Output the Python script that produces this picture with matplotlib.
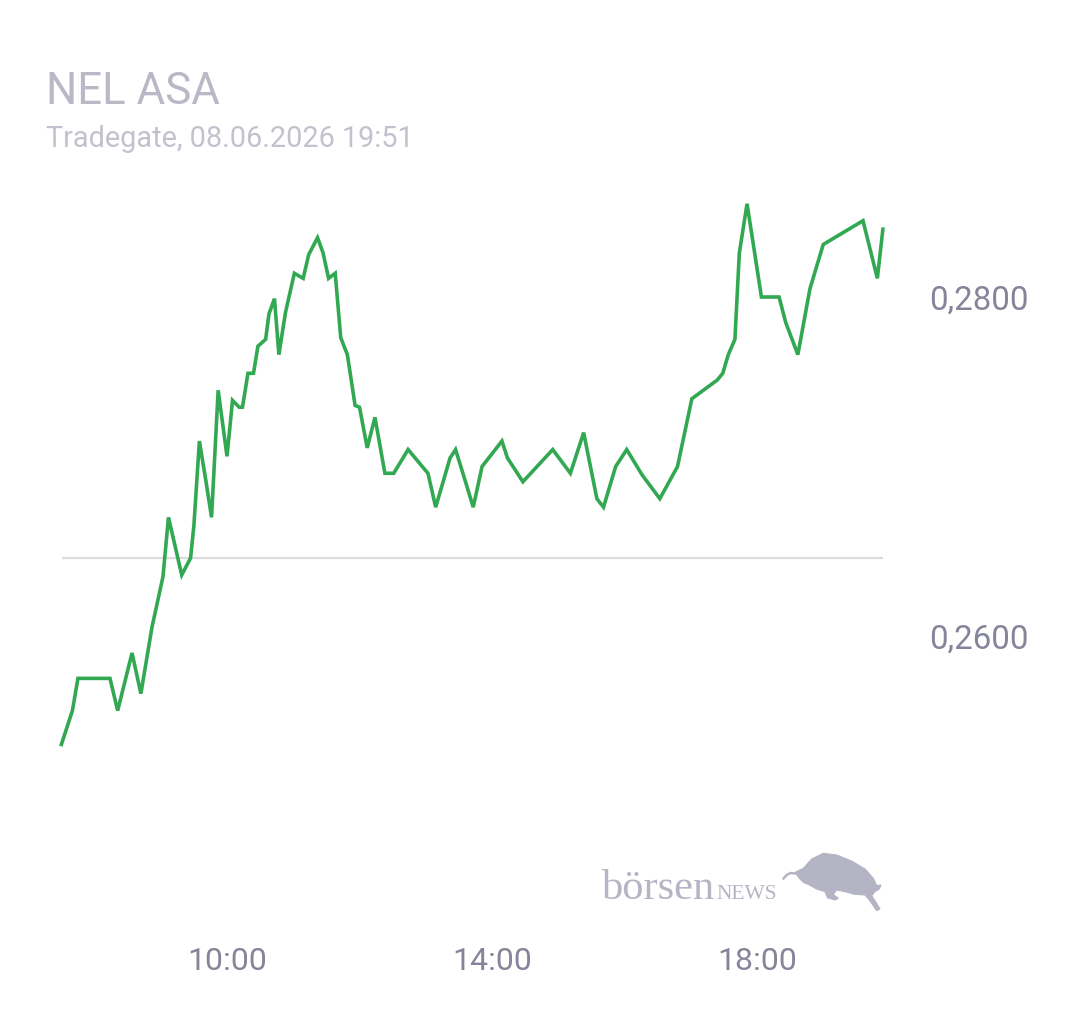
import matplotlib
matplotlib.use("Agg")
import matplotlib.pyplot as plt
from matplotlib.patches import Polygon
from matplotlib.lines import Line2D
import matplotlib.transforms as mtransforms

# ---------------- data ----------------
times = ["07:30", "07:40", "07:45", "08:14", "08:21", "08:34", "08:42", "08:52", "09:02", "09:07",
         "09:19", "09:27", "09:30", "09:35", "09:41", "09:46", "09:52", "10:00", "10:05", "10:11",
         "10:14", "10:19", "10:24", "10:28", "10:35", "10:38", "10:43", "10:47", "10:53", "11:01",
         "11:09", "11:14", "11:22", "11:27", "11:32", "11:38", "11:43", "11:49", "11:56", "12:00",
         "12:07", "12:14", "12:23", "12:31", "12:44", "13:02", "13:09", "13:22", "13:27", "13:36",
         "13:43", "13:51", "14:09", "14:14", "14:28", "14:55", "15:11", "15:23", "15:35", "15:41",
         "15:52", "16:02", "16:16", "16:32", "16:48", "17:01", "17:24", "17:29", "17:34", "17:40",
         "17:44", "17:51", "18:04", "18:20", "18:26", "18:37", "18:48", "19:00", "19:36", "19:49",
         "19:54"]
prices = [0.2536, 0.2556, 0.2575, 0.2575, 0.2556, 0.2590, 0.2566, 0.2605, 0.2635, 0.2670,
          0.2636, 0.2646, 0.2665, 0.2715, 0.2691, 0.2670, 0.2745, 0.2706, 0.2739, 0.2735,
          0.2735, 0.2755, 0.2755, 0.2771, 0.2775, 0.2790, 0.2799, 0.2766, 0.2791, 0.2814,
          0.2811, 0.2825, 0.2835, 0.2826, 0.2811, 0.2814, 0.2776, 0.2766, 0.2736, 0.2735,
          0.2711, 0.2729, 0.2696, 0.2696, 0.2710, 0.2696, 0.2676, 0.2705, 0.2710, 0.2691,
          0.2676, 0.2700, 0.2715, 0.2705, 0.2691, 0.2710, 0.2696, 0.2720, 0.2681, 0.2676,
          0.2700, 0.2710, 0.2695, 0.2681, 0.2700, 0.2740, 0.2751, 0.2755, 0.2766, 0.2775,
          0.2826, 0.2855, 0.2800, 0.2800, 0.2785, 0.2766, 0.2805, 0.2831, 0.2845, 0.2811,
          0.2840]
prev_close = 0.2646
y_ticks = [0.2600, 0.2800]
y_tick_labels = ["0,2600", "0,2800"]
x_ticks = [10, 14, 18]
x_tick_labels = ["10:00", "14:00", "18:00"]
title = "NEL ASA"
subtitle = "Tradegate, 08.06.2026 19:51"

# ---------------- layout ----------------
W, H = 1080, 1013
plt.rcParams["font.family"] = ["Roboto", "DejaVu Sans"]
fig = plt.figure(figsize=(W / 100, H / 100), dpi=100)
fig.patch.set_facecolor("white")

ax_left, ax_right = 62, 883        # pixels
ax_top, ax_bottom = 180, 930       # pixels
ax = fig.add_axes([ax_left / W, 1 - ax_bottom / H, (ax_right - ax_left) / W, (ax_bottom - ax_top) / H])

# y scale: 0.28 at pixel 297, 0.26 at pixel 636
px_per_unit = (636 - 297) / 0.02
ymax = 0.28 + (297 - ax_top) / px_per_unit
ymin = 0.28 - (ax_bottom - 297) / px_per_unit
# x scale: 10:00 at pixel 227, 14:00 at pixel 492
px_per_hour = (492 - 227) / 4
xmin = 10 - (227 - ax_left) / px_per_hour
xmax = 10 + (ax_right - 227) / px_per_hour

hours = [int(t[:2]) + int(t[3:]) / 60 for t in times]

ax.axhline(prev_close, color="#dcdcdf", lw=1.6, zorder=1)
ax.plot(hours, prices, color="#33a852", lw=2.6, solid_joinstyle="miter", zorder=3, clip_on=False)

ax.set_xlim(xmin, xmax)
ax.set_ylim(ymin, ymax)
for s in ax.spines.values():
    s.set_visible(False)
ax.set_facecolor("none")

ax.set_xticks(x_ticks)
ax.set_xticklabels(x_tick_labels)
ax.yaxis.tick_right()
ax.set_yticks(y_ticks)
ax.set_yticklabels(y_tick_labels)
ax.tick_params(axis="x", length=0, pad=12, labelsize=23, labelcolor="#85859a")
ax.tick_params(axis="y", length=0, pad=33, labelsize=23.8, labelcolor="#85859a")

# title / subtitle
fig.text(46 / W, 1 - 104 / H, title, fontsize=31.5, color="#b8b8c7", va="baseline", ha="left")
fig.text(46 / W, 1 - 147 / H, subtitle, fontsize=20.8, color="#c2c2cf", va="baseline", ha="left")

# logo
logo_col = "#b4b4c4"
fig.text(602 / W, 1 - 899 / H, "börsen", fontsize=30.5, color=logo_col, va="baseline", ha="left",
         family=["Liberation Serif", "DejaVu Serif"])
fig.text(716 / W, 1 - 899 / H, "NEWS", fontsize=15.5, color=logo_col, va="baseline", ha="left",
         family=["Liberation Serif", "DejaVu Serif"])
bull = [(75, 82), (100, 70), (125, 42), (160, 25), (200, 30), (245, 48), (285, 72), (310, 100),
        (320, 122), (333, 120), (328, 132), (315, 140), (305, 152), (318, 172), (330, 192),
        (320, 197), (298, 165), (285, 150), (255, 148), (225, 140), (200, 135), (190, 148),
        (205, 160), (195, 165), (172, 158), (165, 140), (140, 132), (118, 120), (100, 112), (88, 100)]
to_px = lambda bx, by: (770 + bx / 3, H - (845 + by / 3))
bull_px = [to_px(bx, by) for bx, by in bull]
fig.patches.append(Polygon(bull_px, closed=True, facecolor=logo_col, edgecolor=logo_col, lw=0.8,
                           transform=mtransforms.IdentityTransform(), figure=fig))
horn = [to_px(bx, by) for bx, by in [(80, 86), (62, 84), (50, 90), (40, 101)]]
fig.lines.append(Line2D([p[0] for p in horn], [p[1] for p in horn], color=logo_col, lw=1.8,
                        solid_capstyle="round", transform=mtransforms.IdentityTransform(), figure=fig))

fig.savefig("out.png", dpi=100, facecolor="white")
